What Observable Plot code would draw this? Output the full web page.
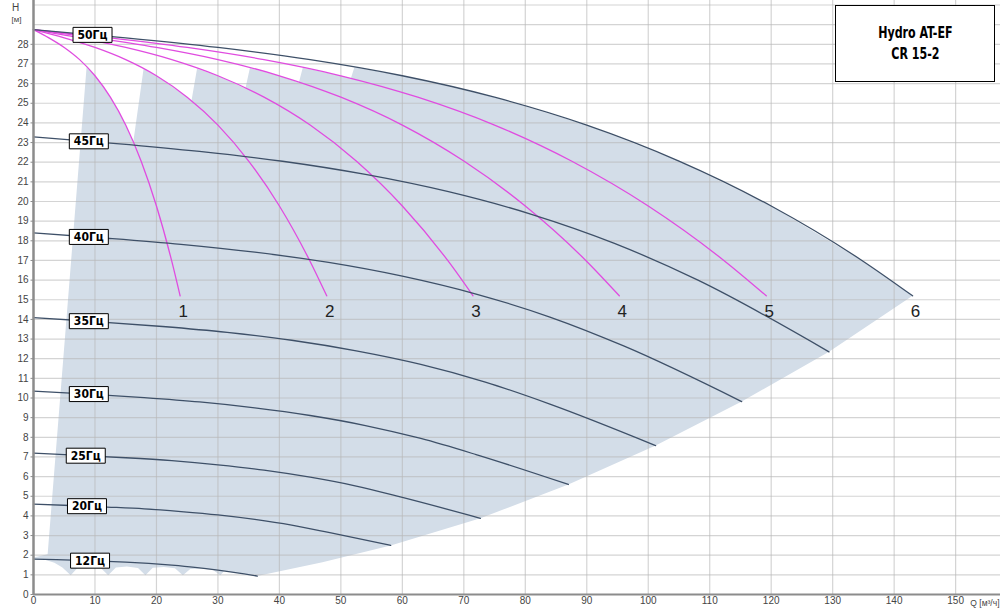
<!DOCTYPE html>
<html><head><meta charset="utf-8">
<script src="https://cdn.jsdelivr.net/npm/d3@7"></script>
<script src="https://cdn.jsdelivr.net/npm/@observablehq/plot@0.6"></script>
<style>
html,body{margin:0;padding:0;background:#fff;}
#wrap{position:relative;width:1000px;height:610px;overflow:hidden;}
#wrap svg{display:block;}
#title{position:absolute;left:835px;top:5px;width:158px;height:75px;border:1px solid #000;background:#fff;display:flex;flex-direction:column;justify-content:center;align-items:center;font-family:"Liberation Sans Narrow","Arial Narrow","DejaVu Sans Condensed","DejaVu Sans",sans-serif;font-weight:bold;font-size:15px;line-height:21px;color:#000;}
#title div{transform:scaleX(0.82);}
</style></head><body>
<div id="wrap"><div id="title"><div>Hydro AT-EF</div><div>CR 15-2</div></div></div>
<script>
// ---- data ----
const speedNames = ["50Гц","45Гц","40Гц","35Гц","30Гц","25Гц","20Гц","12Гц"];
const speed50 = [[0,28.75],[15,28.33],[30,27.84],[45,27.22],[60,26.4],[75,25.31],[90,23.89],[105,22.06],[120,19.77],[135,16.95],[143,15.2]];
const speed45 = [[0,23.29],[13.5,22.95],[27,22.55],[40.5,22.05],[54,21.38],[67.5,20.5],[81,19.35],[94.5,17.87],[108,16.01],[129.4,12.35]];
const speed40 = [[0,18.4],[12,18.13],[24,17.82],[36,17.42],[48,16.9],[60,16.2],[72,15.29],[84,14.12],[96,12.65],[115.2,9.82]];
const speed35 = [[0,14.09],[10.5,13.88],[21,13.64],[31.5,13.34],[42,12.94],[52.5,12.4],[63,11.71],[73.5,10.81],[84,9.69],[101.2,7.58]];
const speed30 = [[0,10.35],[9,10.2],[18,10.02],[27,9.8],[36,9.5],[45,9.11],[54,8.6],[63,7.94],[72,7.12],[87,5.6]];
const speed25 = [[0,7.19],[7.5,7.08],[15,6.96],[22.5,6.81],[30,6.6],[37.5,6.33],[45,5.97],[52.5,5.52],[60,4.94],[72.7,3.88]];
const speed20 = [[0,4.6],[6,4.53],[12,4.45],[18,4.36],[24,4.22],[30,4.05],[36,3.82],[42,3.53],[48,3.16],[58.1,2.5]];
const speed12 = [[0,1.8],[3.75,1.77],[7.5,1.74],[11.25,1.7],[15,1.65],[18.75,1.58],[22.5,1.49],[26.25,1.38],[30,1.24],[36.4,0.94]];
const labelFlow = [9.6, 9, 9, 9, 9, 8.5, 8.7, 9.2];

const pumpHead  = [28.75,28.33,27.84,27.22,26.4,25.31,23.89,22.06,19.77,16.95,15.2];
const pump1Flow = [0,2.5,5,7.5,10,12.5,15,17.5,20,22.5,23.85];
const pump2Flow = [0,5,10,15,20,25,30,35,40,45,47.7];
const pump3Flow = [0,7.5,15,22.5,30,37.5,45,52.5,60,67.5,71.5];
const pump4Flow = [0,10,20,30,40,50,60,70,80,90,95.3];
const pump5Flow = [0,12.5,25,37.5,50,62.5,75,87.5,100,112.5,119.2];
const pumpLabels = ["1","2","3","4","5","6"];

const operatingArea = [
  [2.3,2.05],[8.64,26.86],[10,26.4],[12.5,25.31],[15,23.89],[16.22,23.0],
  [17.9,26.74],[20,26.4],[25,25.31],[25.69,25.11],
  [26.6,26.76],[30,26.4],[34.47,25.75],
  [35.2,26.79],[40,26.4],[43.17,26.06],
  [43.8,26.81],[50,26.4],[51.62,26.26],
  [52.2,26.83],[60,26.4],[75,25.31],[90,23.89],[105,22.06],[120,19.77],[135,16.95],[143,15.2],
  [129.4,12.35],[115.2,9.82],[101.2,7.58],[87,5.6],[72.7,3.88],[58.1,2.5],[47,1.64],[36.4,0.94],
  [33,1.1],[31,1.2],[30.4,0.98],
  [29.2,1.25],[27.3,1.32],[25.5,1.3],[24.3,0.98],
  [23.0,1.33],[21.2,1.4],[19.4,1.36],[18.2,0.98],
  [17.0,1.35],[15.2,1.42],[13.4,1.38],[12.15,0.98],
  [10.9,1.36],[9.1,1.43],[7.3,1.4],[6.05,0.98],
  [4.7,1.38],[3.4,1.62],[2.0,1.76],[0,1.8],[0,1.88]
];

const flowTicks = [0,10,20,30,40,50,60,70,80,90,100,110,120,130,140,150];
const headTicks = [0,1,2,3,4,5,6,7,8,9,10,11,12,13,14,15,16,17,18,19,20,21,22,23,24,25,26,27,28];
const headGrid  = [1,2,3,4,5,6,7,8,9,10,11,12,13,14,15,16,17,18,19,20,21,22,23,24,25,26,27,28,29,30];

// ---- build tables ----
const allSpeeds = [speed50,speed45,speed40,speed35,speed30,speed25,speed20,speed12];
const speedRows = speedNames.flatMap((name,i)=>allSpeeds[i].map(([q,h])=>({name,q,h})));
const pumpFlows = [pump1Flow,pump2Flow,pump3Flow,pump4Flow,pump5Flow];
const pumpRows = pumpFlows.flatMap((fl,i)=>fl.map((q,j)=>({pump:i+1,q,h:pumpHead[j]})));
function headAt(pts,q){
  for(let i=1;i<pts.length;i++){
    if(q<=pts[i][0]){const [q0,h0]=pts[i-1],[q1,h1]=pts[i];return h0+(h1-h0)*(q-q0)/(q1-q0);}
  }
  return pts[pts.length-1][1];
}
const speedLabels = speedNames.map((name,i)=>({name,q:labelFlow[i],h:headAt(allSpeeds[i],labelFlow[i])}));
const endFlows = [...pumpFlows.map(f=>f[f.length-1]), speed50[speed50.length-1][0]];
const pumpEnds = pumpLabels.map((t,i)=>({t,q:endFlows[i],h:pumpHead[pumpHead.length-1]}));

const boxSymbol = {draw(ctx){ctx.moveTo(-19.5,-7.5);ctx.lineTo(19.5,-7.5);ctx.lineTo(19.5,7.5);ctx.lineTo(-19.5,7.5);ctx.closePath();}};
const dashSymbol = {draw(ctx){ctx.moveTo(-3,0);ctx.lineTo(0,0);}};
const narrow = "'Liberation Sans Narrow','Arial Narrow','DejaVu Sans Condensed',sans-serif";

const chart = Plot.plot({
  width:1000, height:610,
  marginLeft:33, marginRight:0, marginTop:0, marginBottom:16,
  x:{domain:[0,157.3], axis:null},
  y:{domain:[0,30.23], axis:null},
  style:{fontFamily:"'Liberation Sans', Arial, sans-serif", background:"#fff", overflow:"visible"},
  marks:[
    Plot.line(operatingArea, {x:d=>d[0], y:d=>d[1], fill:"#d3dde8", stroke:"none", curve:"linear-closed"}),
    Plot.ruleX(flowTicks, {stroke:"#b8b8b8", strokeOpacity:0.6, strokeWidth:1.2}),
    Plot.ruleY(headGrid, {stroke:"#b8b8b8", strokeOpacity:0.6, strokeWidth:1.2}),
    Plot.line(pumpRows, {x:"q", y:"h", z:"pump", stroke:"#e04ce0", strokeWidth:1.3, curve:"monotone-x"}),
    Plot.line(speedRows, {x:"q", y:"h", z:"name", stroke:"#3e5068", strokeWidth:1.3, curve:"monotone-x"}),
    Plot.ruleX([0], {stroke:"#8c8c8c", strokeWidth:2.5}),
    Plot.ruleY([0], {stroke:"#8c8c8c", strokeWidth:2}),
    Plot.dot(headTicks, {y:d=>d, frameAnchor:"left", symbol:dashSymbol, stroke:"#8c8c8c", fill:"none", strokeWidth:1}),
    Plot.text(headTicks, {y:d=>d, frameAnchor:"left", text:d=>String(d), textAnchor:"end", dx:-5, fontSize:10, fill:"#444"}),
    Plot.text(flowTicks, {x:d=>d, frameAnchor:"bottom", text:d=>String(d), dy:9, fontSize:10, fill:"#444"}),
    Plot.dot(speedLabels, {x:"q", y:"h", symbol:boxSymbol, fill:"#fff", stroke:"#000", strokeWidth:1}),
    Plot.text(speedLabels, {x:"q", y:"h", text:"name", fontWeight:"bold", fontSize:12, fontFamily:narrow, fill:"#000"}),
    Plot.text(pumpEnds, {x:"q", y:"h", text:"t", dx:3, dy:16, fontSize:17, fill:"#222"}),
    Plot.text(["H"], {frameAnchor:"top-left", text:d=>d, dx:-18, dy:7, fontSize:10, textAnchor:"middle", lineAnchor:"middle", fill:"#444"}),
    Plot.text(["[м]"], {frameAnchor:"top-left", text:d=>d, dx:-17, dy:19, fontSize:8, textAnchor:"middle", lineAnchor:"middle", fill:"#444"}),
    Plot.text(["Q [м³/ч]"], {frameAnchor:"bottom-right", text:d=>d, dx:-1, dy:9, fontSize:8.5, textAnchor:"end", lineAnchor:"middle", fill:"#444"})
  ]
});
document.getElementById("wrap").prepend(chart);
</script>
</body></html>
